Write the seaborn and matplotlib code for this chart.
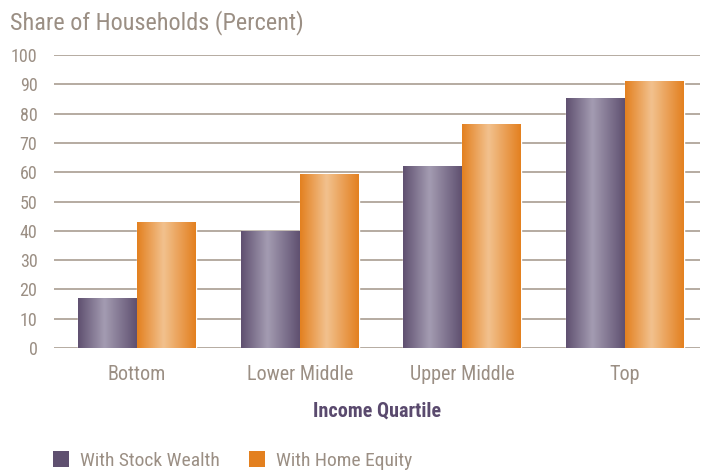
import numpy as np
import pandas as pd
import matplotlib
matplotlib.use("Agg")
import matplotlib.pyplot as plt
from matplotlib.colors import LinearSegmentedColormap
from matplotlib.patches import Patch
import seaborn as sns

# dados
quartis = ["Bottom", "Lower Middle", "Upper Middle", "Top"]
series = ["With Stock Wealth", "With Home Equity"]
stock = [17, 40, 62, 85.5]
home = [43, 59.5, 76.5, 91]

df = pd.DataFrame({
    "Quartile": quartis * 2,
    "Series": [series[0]] * 4 + [series[1]] * 4,
    "Value": stock + home,
})

taupe = "#9b8f84"
grid_col = "#b5aba1"
cores = {series[0]: "#5f5070", series[1]: "#e3801f"}
gradientes = {
    series[0]: LinearSegmentedColormap.from_list(
        "roxo", [(0, "#5f5070"), (0.45, "#a49cb2"), (1, "#5f5070")]),
    series[1]: LinearSegmentedColormap.from_list(
        "laranja", [(0, "#e3801f"), (0.45, "#f2c18e"), (1, "#e3801f")]),
}

sns.set_style("white")
plt.rcParams["font.family"] = ["Roboto Condensed", "DejaVu Sans"]

fig = plt.figure(figsize=(7.02, 4.71), dpi=100)
ax = fig.add_axes([0.077, 0.261, 0.92, 0.622])

sns.barplot(data=df, x="Quartile", y="Value", hue="Series", order=quartis,
            hue_order=series, palette=cores, width=0.725, legend=False,
            saturation=1, ax=ax, zorder=3)

# gradiente tipo cilindro em cada barra
grad = np.linspace(0, 1, 256).reshape(1, -1)
barras = [p for p in ax.patches if p.get_width() > 0]
for i, p in enumerate(barras):
    nome = series[0] if i < 4 else series[1]
    x0, y0 = p.get_x(), p.get_y()
    x1, y1 = x0 + p.get_width(), y0 + p.get_height()
    im = ax.imshow(grad, extent=[x0, x1, y0, y1], aspect="auto",
                   cmap=gradientes[nome], zorder=4, interpolation="bicubic")
    im.set_clip_path(p)

ax.set_xlim(-0.51, 3.46)
ax.set_ylim(0, 100)
ax.set_yticks(range(0, 101, 10))
ax.grid(axis="y", color=grid_col, linewidth=1.4, zorder=0)
ax.set_axisbelow(True)
for s in ax.spines.values():
    s.set_visible(False)

ax.tick_params(axis="y", length=0, labelsize=13, colors=taupe, pad=12)
ax.tick_params(axis="x", length=0, labelsize=14.5, colors=taupe, pad=12.5)
ax.set_ylabel("")
ax.set_xlabel("Income Quartile", fontsize=14.5, fontweight="bold",
              color="#5a4a6e", labelpad=12)

fig.text(0.014, 0.953, "Share of Households (Percent)", fontsize=17.5,
         color=taupe, ha="left", va="center")

handles = [Patch(facecolor=cores[s], edgecolor="none", label=s) for s in series]
fig.legend(handles=handles, loc="center left", bbox_to_anchor=(0.05, 0.022),
           ncol=2, frameon=False, fontsize=14, labelcolor=taupe,
           handlelength=0.85, handleheight=0.9, columnspacing=1.5, handletextpad=0.55)

fig.savefig("out.png", dpi=100)
